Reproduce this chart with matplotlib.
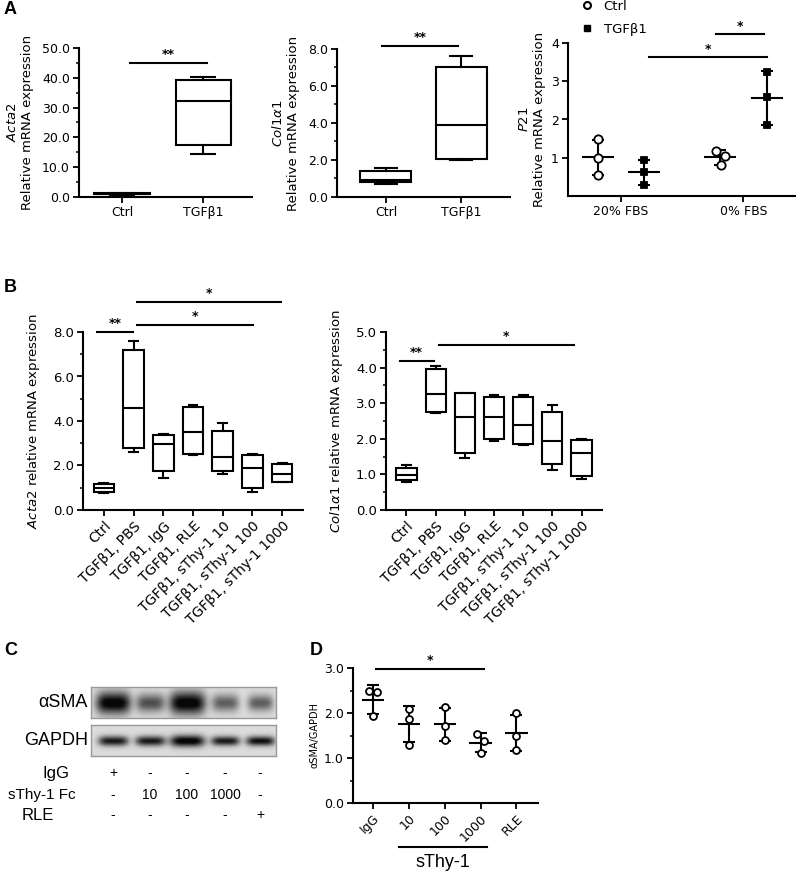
import numpy as np
import matplotlib
matplotlib.use("Agg")
import matplotlib.pyplot as plt
from matplotlib.lines import Line2D

# ---------------- data ----------------
# box stats: whisker low, q1, median, q3, whisker high
a_groups = ["Ctrl", "TGF\u03b21"]
acta2_a = [[0.8, 0.9, 1.0, 1.2, 1.4], [14.3, 17.5, 32.1, 39.4, 40.3]]
col1a1_a = [[0.72, 0.8, 0.92, 1.42, 1.58], [2.0, 2.05, 3.9, 7.05, 7.6]]

p21_conds = ["20% FBS", "0% FBS"]
p21_ctrl = [[1.48, 1.0, 0.55], [1.18, 1.05, 0.8]]
p21_tgf = [[0.95, 0.62, 0.3], [3.25, 2.6, 1.85]]

b_groups = ["Ctrl", "TGF\u03b21, PBS", "TGF\u03b21, IgG", "TGF\u03b21, RLE",
            "TGF\u03b21, sThy-1 10", "TGF\u03b21, sThy-1 100", "TGF\u03b21, sThy-1 1000"]
acta2_b = [[0.78, 0.82, 1.0, 1.17, 1.2],
           [2.6, 2.8, 4.6, 7.2, 7.6],
           [1.45, 1.77, 2.95, 3.35, 3.4],
           [2.47, 2.5, 3.52, 4.65, 4.7],
           [1.6, 1.75, 2.4, 3.56, 3.9],
           [0.82, 0.98, 1.88, 2.47, 2.52],
           [1.27, 1.27, 1.6, 2.05, 2.1]]
col1a1_b = [[0.8, 0.85, 0.97, 1.17, 1.25],
            [2.72, 2.74, 3.25, 3.95, 4.04],
            [1.45, 1.6, 2.6, 3.28, 3.3],
            [1.95, 2.0, 2.62, 3.18, 3.23],
            [1.83, 1.85, 2.4, 3.17, 3.23],
            [1.12, 1.28, 1.95, 2.74, 2.95],
            [0.86, 0.95, 1.6, 1.97, 2.0]]

# western blot (relative band strength / width per lane)
asma_int = [1.0, 0.62, 1.0, 0.55, 0.55]
asma_wid = [1.15, 0.95, 1.2, 0.9, 0.85]
gapdh_int = [0.85, 0.85, 1.0, 0.85, 0.9]
gapdh_wid = [1.0, 1.0, 1.15, 0.95, 0.95]
row_names = ["IgG", "sThy-1 Fc", "RLE"]
row_marks = [["+", "-", "-", "-", "-"],
             ["-", "10", "100", "1000", "-"],
             ["-", "-", "-", "-", "+"]]

d_groups = ["IgG", "10", "100", "1000", "RLE"]
d_vals = [[2.5, 2.47, 1.93], [2.08, 1.86, 1.3], [2.13, 1.71, 1.4],
          [1.54, 1.37, 1.12], [1.99, 1.5, 1.18]]

W, H = 798, 871
plt.rcParams['font.family'] = ['DejaVu Sans']
fig = plt.figure(figsize=(W / 100, H / 100), dpi=100)


def px_axes(l, t, r, b):
    return fig.add_axes([l / W, 1 - b / H, (r - l) / W, (b - t) / H])


def style(ax):
    for s in ['top', 'right']:
        ax.spines[s].set_visible(False)
    for s in ['left', 'bottom']:
        ax.spines[s].set_linewidth(1.5)
    ax.tick_params(width=1.3, length=4.5, labelsize=9, pad=2)
    ax.tick_params(which='minor', width=1.1, length=2.5)


def boxes(ax, stats_list, width, capw):
    stats = [dict(whislo=s[0], q1=s[1], med=s[2], q3=s[3], whishi=s[4], fliers=[])
             for s in stats_list]
    ax.bxp(stats, positions=range(len(stats)), widths=width, capwidths=capw,
           showfliers=False, patch_artist=True,
           boxprops=dict(facecolor='white', edgecolor='black', linewidth=1.5),
           medianprops=dict(color='black', linewidth=1.5),
           whiskerprops=dict(color='black', linewidth=1.5),
           capprops=dict(color='black', linewidth=1.5))


def sig(ax, x0, x1, y, text, dy):
    ax.plot([x0, x1], [y, y], color='k', lw=1.5, clip_on=False)
    ax.text((x0 + x1) / 2, y + dy, text, ha='center', va='bottom',
            fontsize=9, fontweight='bold', clip_on=False)


def mean_sd(ax, x, pts, jit, hw, marker, mfc, ms, cap):
    m = np.mean(pts)
    sd = np.std(pts, ddof=1)
    ax.plot([x - hw, x + hw], [m, m], color='k', lw=1.5)
    ax.errorbar(x, m, yerr=sd, fmt='none', ecolor='k', elinewidth=1.5,
                capsize=cap, capthick=1.5)
    ax.plot(np.array(jit) + x, pts, ls='none', marker=marker, mfc=mfc,
            mec='k', ms=ms, mew=1.3, zorder=3)


def panel_letter(x, y, s):
    fig.text(x / W, 1 - y / H, s, fontsize=13, fontweight='bold',
             family='Liberation Sans', va='center', ha='left')


# ---------------- panel A ----------------
ax1 = px_axes(79, 48, 252, 197)
style(ax1)
boxes(ax1, acta2_a, 0.68, 0.3)
ax1.set_xlim(-0.53, 1.6)
ax1.set_ylim(0, 50)
ax1.set_yticks(np.arange(0, 51, 10))
ax1.set_yticks(np.arange(0, 51, 5), minor=True)
ax1.set_yticklabels([f"{v:.1f}" for v in np.arange(0, 51, 10)])
ax1.set_xticks([0, 1])
ax1.set_xticklabels(a_groups)
ax1.set_ylabel("$\\mathit{Acta2}$\nRelative mRNA expression", fontsize=9.5, labelpad=6)
sig(ax1, 0.1, 1.05, 45, "**", 0.5)

ax2 = px_axes(337, 49, 510, 197)
style(ax2)
boxes(ax2, col1a1_a, 0.68, 0.3)
ax2.set_xlim(-0.65, 1.65)
ax2.set_ylim(0, 8)
ax2.set_yticks(np.arange(0, 9, 2))
ax2.set_yticks(np.arange(0, 9, 1), minor=True)
ax2.set_yticklabels([f"{v:.1f}" for v in np.arange(0, 9, 2)])
ax2.set_xticks([0, 1])
ax2.set_xticklabels(a_groups)
ax2.set_ylabel("$\\mathit{Col1\u03b11}$\nRelative mRNA expression", fontsize=9.5, labelpad=6)
sig(ax2, -0.05, 0.96, 8.16, "**", 0.1)

ax3 = px_axes(568, 43, 795, 196)
style(ax3)
p21_x = [[0, 1], [2.65, 3.67]]
for i in range(2):
    mean_sd(ax3, p21_x[i][0], p21_ctrl[i], [0, 0, 0] if i == 0 else [-0.08, 0.12, 0.02],
            0.33, 'o', 'white', 6, 4.5)
    mean_sd(ax3, p21_x[i][1], p21_tgf[i], [0, 0, 0], 0.33, 's', 'black', 5, 4.5)
ax3.set_xlim(-0.65, 4.28)
ax3.set_ylim(0, 4)
ax3.set_yticks([1, 2, 3, 4])
ax3.set_xticks([0.5, 3.16])
ax3.set_xticklabels(p21_conds)
ax3.set_ylabel("$\\mathit{P21}$\nRelative mRNA expression", fontsize=9.5, labelpad=4)
sig(ax3, 2.57, 3.6, 4.24, "*", 0.03)
sig(ax3, 1.1, 3.67, 3.63, "*", 0.03)
handles = [Line2D([], [], ls='none', marker='o', mfc='white', mec='k', mew=1.5, ms=5),
           Line2D([], [], ls='none', marker='s', mfc='k', mec='k', ms=5)]
ax3.legend(handles, ["Ctrl", "TGF\u03b21"], loc='upper left', frameon=False,
           bbox_to_anchor=(576 / W, 1 + 3 / H), bbox_transform=fig.transFigure,
           fontsize=9.5, handlelength=1.2, handletextpad=0.7, labelspacing=0.75,
           borderaxespad=0, borderpad=0.2)

# ---------------- panel B ----------------
def b_axes(l, r, vals, ymax, minor, ylabel):
    ax = px_axes(l, 332, r, 510)
    style(ax)
    boxes(ax, vals, 0.69, 0.3)
    ax.set_xlim(-0.7, 6.7)
    ax.set_ylim(0, ymax)
    ticks = np.arange(0, ymax + 0.01, 2 if ymax > 5 else 1)
    ax.set_yticks(ticks)
    ax.set_yticks(np.arange(0, ymax + 0.01, minor), minor=True)
    ax.set_yticklabels([f"{v:.1f}" for v in ticks], fontsize=9.5)
    ax.set_xticks(range(len(b_groups)))
    ax.set_xticklabels(b_groups, rotation=45, ha='right', rotation_mode='anchor', fontsize=10)
    ax.set_ylabel(ylabel, fontsize=9.5, labelpad=8)
    return ax

bx1 = b_axes(83, 303, acta2_b, 8, 1, "$\\mathit{Acta2}$ relative mRNA expression")
sig(bx1, -0.23, 0.97, 8.0, "**", 0.1)
sig(bx1, 1.1, 5.03, 8.3, "*", 0.1)
sig(bx1, 1.1, 5.97, 9.35, "*", 0.1)

bx2 = b_axes(386, 602, col1a1_b, 5, 0.5, "$\\mathit{Col1\u03b11}$ relative mRNA expression")
sig(bx2, -0.23, 0.93, 4.19, "**", 0.06)
sig(bx2, 1.1, 5.73, 4.63, "*", 0.06)

# ---------------- panel C (blot) ----------------
lane_px = [22, 59, 96, 134, 169]


def blot(top, bottom, ints, wids, sy):
    ax = px_axes(91, top, 276, bottom)
    X, Y = np.meshgrid(np.arange(185), np.arange(bottom - top))
    img = np.full(X.shape, 0.86)
    yc = (bottom - top) / 2
    for lx, a, w in zip(lane_px, ints, wids):
        img -= 0.9 * a * np.exp(-((X - lx) / (15 * w)) ** 4 - ((Y - yc) / (sy * w)) ** 2)
    ax.imshow(np.clip(img, 0.03, 1), cmap='gray', vmin=0, vmax=1, aspect='auto',
              interpolation='bilinear')
    ax.set_xticks([])
    ax.set_yticks([])
    for s in ax.spines.values():
        s.set_color('#999999')
        s.set_linewidth(1)
    return ax

blot(687, 718, asma_int, asma_wid, 9.5)
blot(725, 756, gapdh_int, gapdh_wid, 5)
fig.text(88 / W, 1 - 702 / H, "\u03b1SMA", fontsize=13, family='Liberation Sans',
         ha='right', va='center')
fig.text(88 / W, 1 - 740 / H, "GAPDH", fontsize=13, family='Liberation Sans',
         ha='right', va='center')
row_y = [773, 795, 815]
row_x = [70, 76, 22]
row_ha = ['right', 'right', 'left']
for name, marks, y, x, ha in zip(row_names, row_marks, row_y, row_x, row_ha):
    fig.text(x / W, 1 - y / H, name, fontsize=12 if name != "sThy-1 Fc" else 11,
             family='Liberation Sans', ha=ha, va='center')
    for lx, mk in zip(lane_px, marks):
        fig.text((91 + lx) / W, 1 - y / H, mk, fontsize=10, family='Liberation Sans',
                 ha='center', va='center')

# ---------------- panel D ----------------
dx = px_axes(353, 668, 538, 803)
style(dx)
d_jit = [[-0.11, 0.11, 0], [0, 0, 0], [0, 0, 0], [-0.11, 0.11, 0], [0, 0, 0]]
for i, pts in enumerate(d_vals):
    mean_sd(dx, i, pts, d_jit[i], 0.28, 'o', 'white', 5, 4)
dx.set_xlim(-0.55, 4.6)
dx.set_ylim(0, 3)
dx.set_yticks([0, 1, 2, 3])
dx.set_yticks(np.arange(0, 3.01, 0.5), minor=True)
dx.set_yticklabels([f"{v:.1f}" for v in [0, 1, 2, 3]])
dx.set_xticks(range(len(d_groups)))
dx.set_xticklabels(d_groups, rotation=45, ha='right', rotation_mode='anchor', fontsize=9)
dx.set_ylabel("\u03b1SMA/GAPDH", fontsize=7, labelpad=3)
sig(dx, 0.1, 3.1, 2.98, "*", 0.05)
fig.add_artist(Line2D([399 / W, 487 / W], [1 - 847 / H, 1 - 847 / H], color='k', lw=1.5))
fig.text(443 / W, 1 - 862 / H, "sThy-1", fontsize=13, family='Liberation Sans',
         ha='center', va='center')

panel_letter(4, 10, "A")
panel_letter(4, 288, "B")
panel_letter(4, 650, "C")
panel_letter(310, 650, "D")

fig.savefig("out.png", dpi=100)
